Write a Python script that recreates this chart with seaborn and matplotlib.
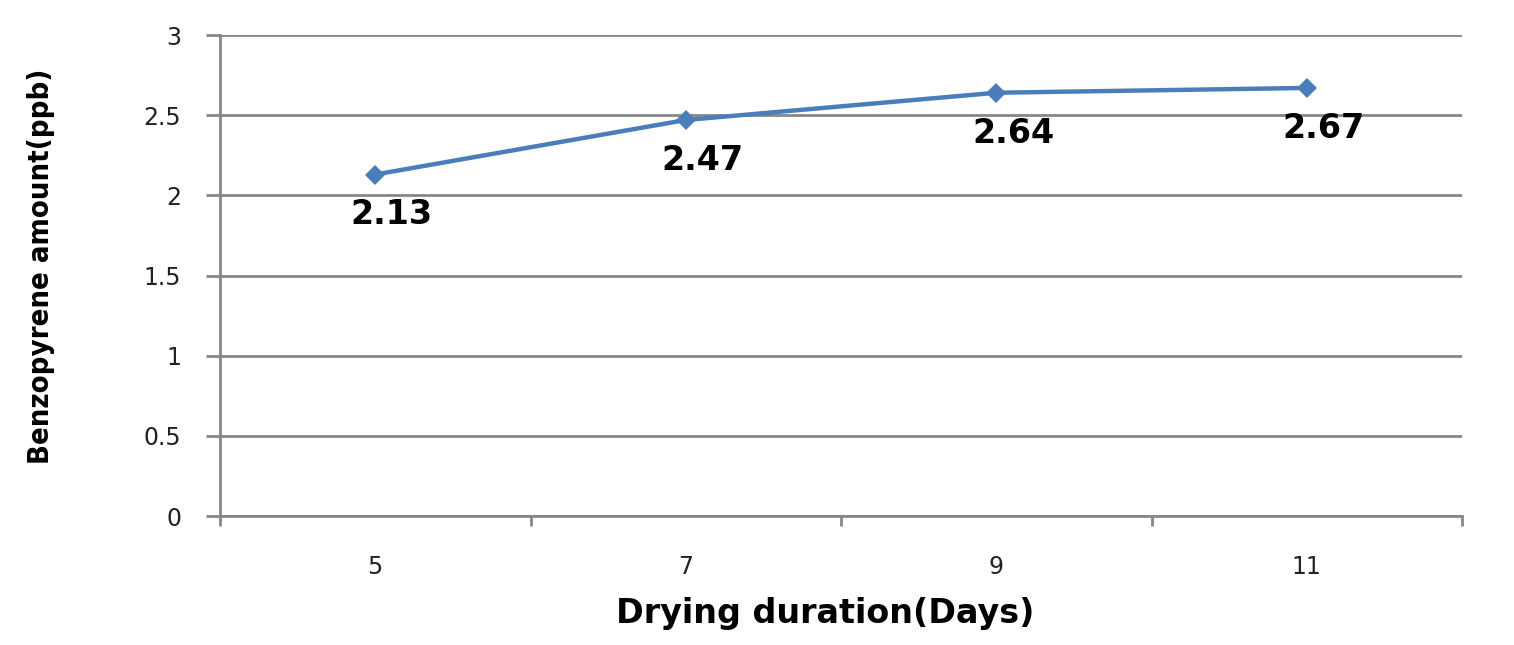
import matplotlib.pyplot as plt
import seaborn as sns
from matplotlib.ticker import FixedLocator, NullFormatter

days = ["5", "7", "9", "11"]
benzopyrene = [2.13, 2.47, 2.64, 2.67]
y_ticks = [0, 0.5, 1, 1.5, 2, 2.5, 3]

sns.set_theme(style="white")
plt.rcParams["font.family"] = ["DejaVu Sans"]

grid_c = "#878787"
line_c = "#4A7EBB"

fig = plt.figure(figsize=(15.14, 6.45), dpi=100)
ax = fig.add_axes([0.1453, 0.2, 0.8204, 0.7457])

sns.lineplot(x=days, y=benzopyrene, ax=ax, color=line_c, linewidth=3.2,
             marker="D", markersize=10, markeredgewidth=0, sort=False)

for d, v in zip(days, benzopyrene):
    ax.annotate(f"{v:.2f}", (d, v), xytext=(12, -29), textcoords="offset points",
                ha="center", va="center", fontsize=24, fontweight="bold",
                color="black")

ax.set_xlim(-0.5, len(days) - 0.5)
ax.set_ylim(0, 3)
ax.set_yticks(y_ticks)
ax.set_yticklabels([f"{t:g}" for t in y_ticks], fontsize=17, color="#222222")

# category boundaries carry the tick marks, labels sit between them
ax.xaxis.set_major_locator(FixedLocator([i - 0.5 for i in range(len(days) + 1)]))
ax.xaxis.set_major_formatter(NullFormatter())
ax.xaxis.set_minor_locator(FixedLocator(list(range(len(days)))))
ax.set_xticklabels(days, minor=True, fontsize=17, color="#222222")
ax.tick_params(axis="x", which="major", direction="out", length=7, width=2,
               color=grid_c, bottom=True)
ax.tick_params(axis="x", which="minor", length=0, pad=28)
ax.tick_params(axis="y", direction="out", length=10, width=2, color=grid_c,
               left=True, pad=18)

ax.grid(axis="y", color=grid_c, linewidth=2)
ax.set_axisbelow(True)
for side in ["top", "right"]:
    ax.spines[side].set_visible(False)
for side in ["left", "bottom"]:
    ax.spines[side].set_color(grid_c)
    ax.spines[side].set_linewidth(2)

ax.set_xlabel("Drying duration(Days)", fontsize=24, fontweight="bold",
              color="black")
ax.xaxis.set_label_coords(0.487, -0.168)
ax.set_ylabel("Benzopyrene amount(ppb)", fontsize=21, fontweight="bold",
              fontstretch="condensed", color="black")
ax.yaxis.set_label_coords(-0.133, 0.52)

fig.savefig("out.png", dpi=100)
